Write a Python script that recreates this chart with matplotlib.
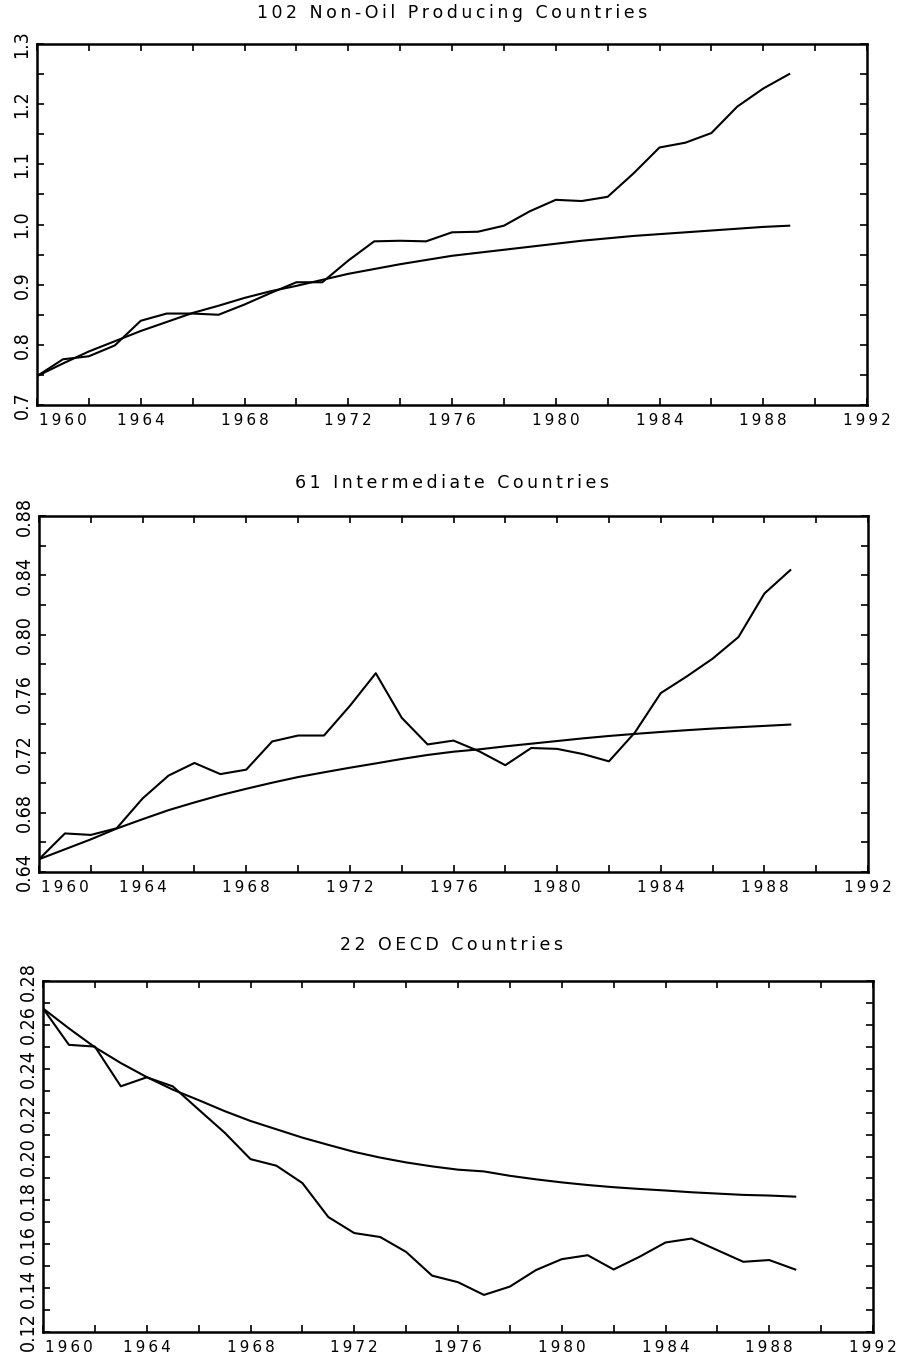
import matplotlib
matplotlib.use("Agg")
import matplotlib.pyplot as plt
import matplotlib.transforms as mtransforms
from matplotlib.ticker import MultipleLocator, FixedLocator

# ============================
# Data
# ============================
YEARS = list(range(1960, 1990))

NONOIL_ACTUAL = [0.748, 0.776, 0.781, 0.799, 0.840, 0.852, 0.852, 0.850, 0.867, 0.886,
                 0.904, 0.904, 0.940, 0.972, 0.973, 0.972, 0.987, 0.988, 0.998, 1.022,
                 1.041, 1.039, 1.046, 1.085, 1.128, 1.136, 1.152, 1.196, 1.226, 1.250]
NONOIL_TREND = [0.748, 0.769, 0.789, 0.806, 0.823, 0.838, 0.853, 0.865, 0.878, 0.889,
                0.898, 0.908, 0.918, 0.926, 0.934, 0.941, 0.948, 0.953, 0.958, 0.963,
                0.968, 0.973, 0.977, 0.981, 0.984, 0.987, 0.990, 0.993, 0.996, 0.998]

INTER_ACTUAL = [0.6486, 0.666, 0.665, 0.6695, 0.6896, 0.705, 0.7135, 0.706, 0.709, 0.728,
                0.732, 0.732, 0.752, 0.774, 0.744, 0.726, 0.7286, 0.7213, 0.712, 0.7236,
                0.723, 0.7195, 0.7146, 0.734, 0.7606, 0.7718, 0.7838, 0.7984, 0.8277, 0.8435]
INTER_TREND = [0.6486, 0.6553, 0.662, 0.6693, 0.6756, 0.6817, 0.6869, 0.6918, 0.6961, 0.7002,
               0.704, 0.7072, 0.7103, 0.7132, 0.7162, 0.7189, 0.7211, 0.7227, 0.7247, 0.7265,
               0.7283, 0.7301, 0.7317, 0.7331, 0.7344, 0.7356, 0.7367, 0.7376, 0.7385, 0.7394]

OECD_ACTUAL = [0.2675, 0.2509, 0.2501, 0.232, 0.2361, 0.232, 0.2214, 0.2109, 0.1988, 0.1958,
               0.1879, 0.1724, 0.1651, 0.1633, 0.1565, 0.1457, 0.1427, 0.1369, 0.1407, 0.1482,
               0.1532, 0.155, 0.1485, 0.1543, 0.1608, 0.1626, 0.1573, 0.152, 0.1528, 0.1485]
OECD_TREND = [0.2675, 0.2584, 0.2498, 0.2426, 0.2362, 0.2305, 0.2257, 0.2207, 0.2162, 0.2124,
              0.2086, 0.2053, 0.2021, 0.1995, 0.1973, 0.1955, 0.1940, 0.1932, 0.1912, 0.1896,
              0.1882, 0.187, 0.186, 0.1852, 0.1845, 0.1837, 0.1831, 0.1825, 0.1822, 0.1817]

TITLES = ["102 Non-Oil Producing Countries", "61 Intermediate Countries", "22 OECD Countries"]
X_TICKS = [1960, 1964, 1968, 1972, 1976, 1980, 1984, 1988, 1992]

Y_TICKS_1 = [0.7, 0.8, 0.9, 1.0, 1.1, 1.2, 1.3]
Y_LABELS_1 = ["0.7", "0.8", "0.9", "1.0", "1.1", "1.2", "1.3"]
Y_TICKS_2 = [0.64, 0.68, 0.72, 0.76, 0.80, 0.84, 0.88]
Y_LABELS_2 = ["0.64", "0.68", "0.72", "0.76", "0.80", "0.84", "0.88"]
Y_TICKS_3 = [0.12, 0.14, 0.16, 0.18, 0.20, 0.22, 0.24, 0.26, 0.28]
Y_LABELS_3 = ["0.12", "0.14", "0.16", "0.18", "0.20", "0.22", "0.24", "0.26", "0.28"]

THIN = "\u2009"


def spaced(s):
    # imita o espaçamento largo da fonte de plotter
    return THIN.join(s)


W, H = 900, 1357
fig = plt.figure(figsize=(W / 100, H / 100), dpi=100)

# (left, right, top, bottom, y do título) em pixels
PANELS = [
    (37, 867, 44, 405, 13, TITLES[0], NONOIL_ACTUAL, NONOIL_TREND, (0.7, 1.3), Y_TICKS_1, Y_LABELS_1, 0.05),
    (39, 868, 516, 872, 483, TITLES[1], INTER_ACTUAL, INTER_TREND, (0.64, 0.88), Y_TICKS_2, Y_LABELS_2, 0.02),
    (43, 873, 981, 1332, 945, TITLES[2], OECD_ACTUAL, OECD_TREND, (0.12, 0.28), Y_TICKS_3, Y_LABELS_3, 0.01),
]

YFONT = dict(family=["Liberation Sans Narrow", "DejaVu Sans"], fontstretch="condensed", size=14)

for (l, r, t, b, ty, title, actual, trend, ylim, yticks, ylabels, yminor) in PANELS:
    ax = fig.add_axes([l / W, 1 - b / H, (r - l) / W, (b - t) / H])
    ax.plot(YEARS, actual, color="black", lw=1.5)
    ax.plot(YEARS, trend, color="black", lw=1.5)
    ax.set_xlim(1960, 1992)
    ax.set_ylim(*ylim)

    ax.xaxis.set_major_locator(FixedLocator(X_TICKS))
    ax.xaxis.set_minor_locator(MultipleLocator(2))
    ax.set_xticklabels([spaced(str(x)) for x in X_TICKS], fontsize=11, family="DejaVu Sans")
    ax.yaxis.set_major_locator(FixedLocator(yticks))
    ax.yaxis.set_minor_locator(MultipleLocator(yminor))
    ax.set_yticklabels(ylabels, rotation=90, va="center", **YFONT)

    ax.tick_params(which="both", direction="in", top=True, right=True, length=5, width=1.2)
    ax.tick_params(axis="x", pad=6)
    ax.tick_params(axis="y", pad=4)
    for sp in ax.spines.values():
        sp.set_linewidth(1.8)

    # o rótulo 1960 fica deslocado para a direita (evita o rótulo do eixo y)
    lab0 = ax.get_xticklabels()[0]
    lab0.set_transform(lab0.get_transform() + mtransforms.ScaledTranslation(0.26, 0, fig.dpi_scale_trans))

    fig.text(452 / W, 1 - ty / H, spaced(title),
             ha="center", va="center", fontsize=12.5, family="DejaVu Sans")

fig.savefig("out.png", dpi=100)
